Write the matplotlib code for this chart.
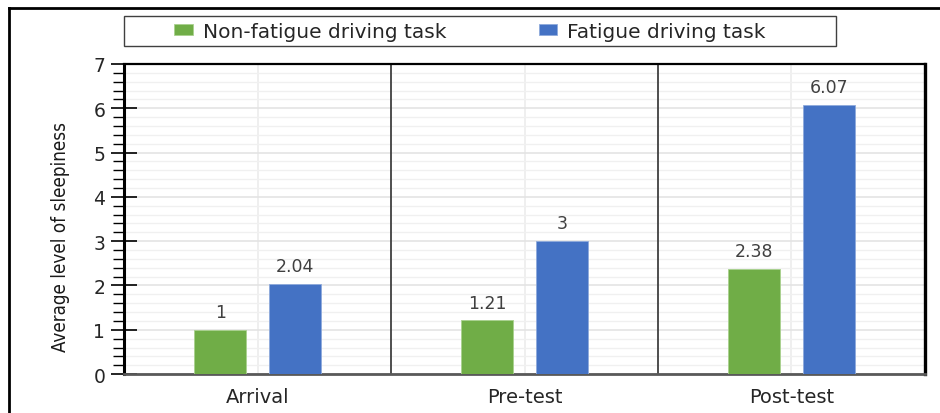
import matplotlib
matplotlib.use('Agg')

import numpy as np
import matplotlib.pyplot as plt
from matplotlib.lines import Line2D
from matplotlib.patches import Rectangle
from matplotlib.ticker import MultipleLocator

stages = ['Arrival', 'Pre-test', 'Post-test']
non_fatigue = [1, 1.21, 2.38]
fatigue = [2.04, 3, 6.07]
non_fatigue_labels = ['1', '1.21', '2.38']
fatigue_labels = ['2.04', '3', '6.07']

green = '#70ad47'
blue = '#4472c4'

fig = plt.figure(figsize=(9.4, 4.14), dpi=100)
ax = fig.add_axes([0.132, 0.094, 0.852, 0.749])

x = np.arange(len(stages))
width = 0.195
b1 = ax.bar(x - 0.14, non_fatigue, width, color=green, edgecolor='#a9d18e',
            linewidth=0.6, label='Non-fatigue driving task', zorder=3)
b2 = ax.bar(x + 0.14, fatigue, width, color=blue, edgecolor='#8faadc',
            linewidth=0.6, label='Fatigue driving task', zorder=3)

for bars, labels in ((b1, non_fatigue_labels), (b2, fatigue_labels)):
    for rect, lab in zip(bars, labels):
        ax.text(rect.get_x() + rect.get_width() / 2, rect.get_height() + 0.2,
                lab, ha='center', va='bottom', fontsize=12.5, color='#404040')

ax.set_xlim(-0.5, 2.5)
ax.set_ylim(0, 7)
ax.set_xticks(x)
ax.set_xticklabels(stages, fontsize=14, color='#262626')
ax.tick_params(axis='x', length=0, pad=9)

ax.yaxis.set_major_locator(MultipleLocator(1))
ax.yaxis.set_minor_locator(MultipleLocator(0.2))
ax.tick_params(axis='y', which='major', direction='inout', length=19,
               width=1.2, labelsize=13.5, labelcolor='#262626', pad=4)
ax.tick_params(axis='y', which='minor', direction='out', length=8,
               width=1.0)

# light grid
ax.grid(axis='y', which='minor', color='#f0f0f0', linewidth=1.0, zorder=0)
ax.grid(axis='y', which='major', color='#e4e4e4', linewidth=1.2, zorder=0)
for xc in x:
    ax.axvline(xc, color='#ececec', linewidth=1.2, zorder=0)
for xs in (0.5, 1.5):
    ax.axvline(xs, color='#404040', linewidth=1.3, zorder=2)

ax.spines['left'].set_linewidth(2.2)
ax.spines['left'].set_color('black')
ax.spines['top'].set_linewidth(1.6)
ax.spines['right'].set_linewidth(2.4)
ax.spines['bottom'].set_linewidth(2.0)
ax.spines['bottom'].set_color('#595959')

ax.set_ylabel('Average level of sleepiness',
              family=['Liberation Sans Narrow', 'DejaVu Sans Condensed',
                      'DejaVu Sans'],
              stretch='condensed', fontsize=13.5, color='#1a1a1a')
ax.yaxis.set_label_coords(-0.068, 0.445)

# legend box spans from the y axis to about x=836 px
fig.add_artist(Rectangle((124 / 940, 1 - 47 / 414), (836 - 124) / 940,
                         30 / 414, transform=fig.transFigure, fill=False,
                         edgecolor='#404040', linewidth=1.0))
leg = fig.legend(loc='center', bbox_to_anchor=(470 / 940, 1 - 32 / 414),
                 ncol=2, fontsize=14.5, frameon=False, handlelength=0.9,
                 handleheight=0.5, handletextpad=0.5, columnspacing=4.6,
                 borderpad=0.0)
for t in leg.get_texts():
    t.set_color('#262626')

# outer frame (left and top edges)
fig.add_artist(Line2D([8.5 / 940, 8.5 / 940], [0, 1 - 8.5 / 414],
                      transform=fig.transFigure, color='black', linewidth=2.0))
fig.add_artist(Line2D([8.5 / 940, 1], [1 - 8.5 / 414, 1 - 8.5 / 414],
                      transform=fig.transFigure, color='black', linewidth=2.0))

fig.savefig('out.png', dpi=100, facecolor='white')
